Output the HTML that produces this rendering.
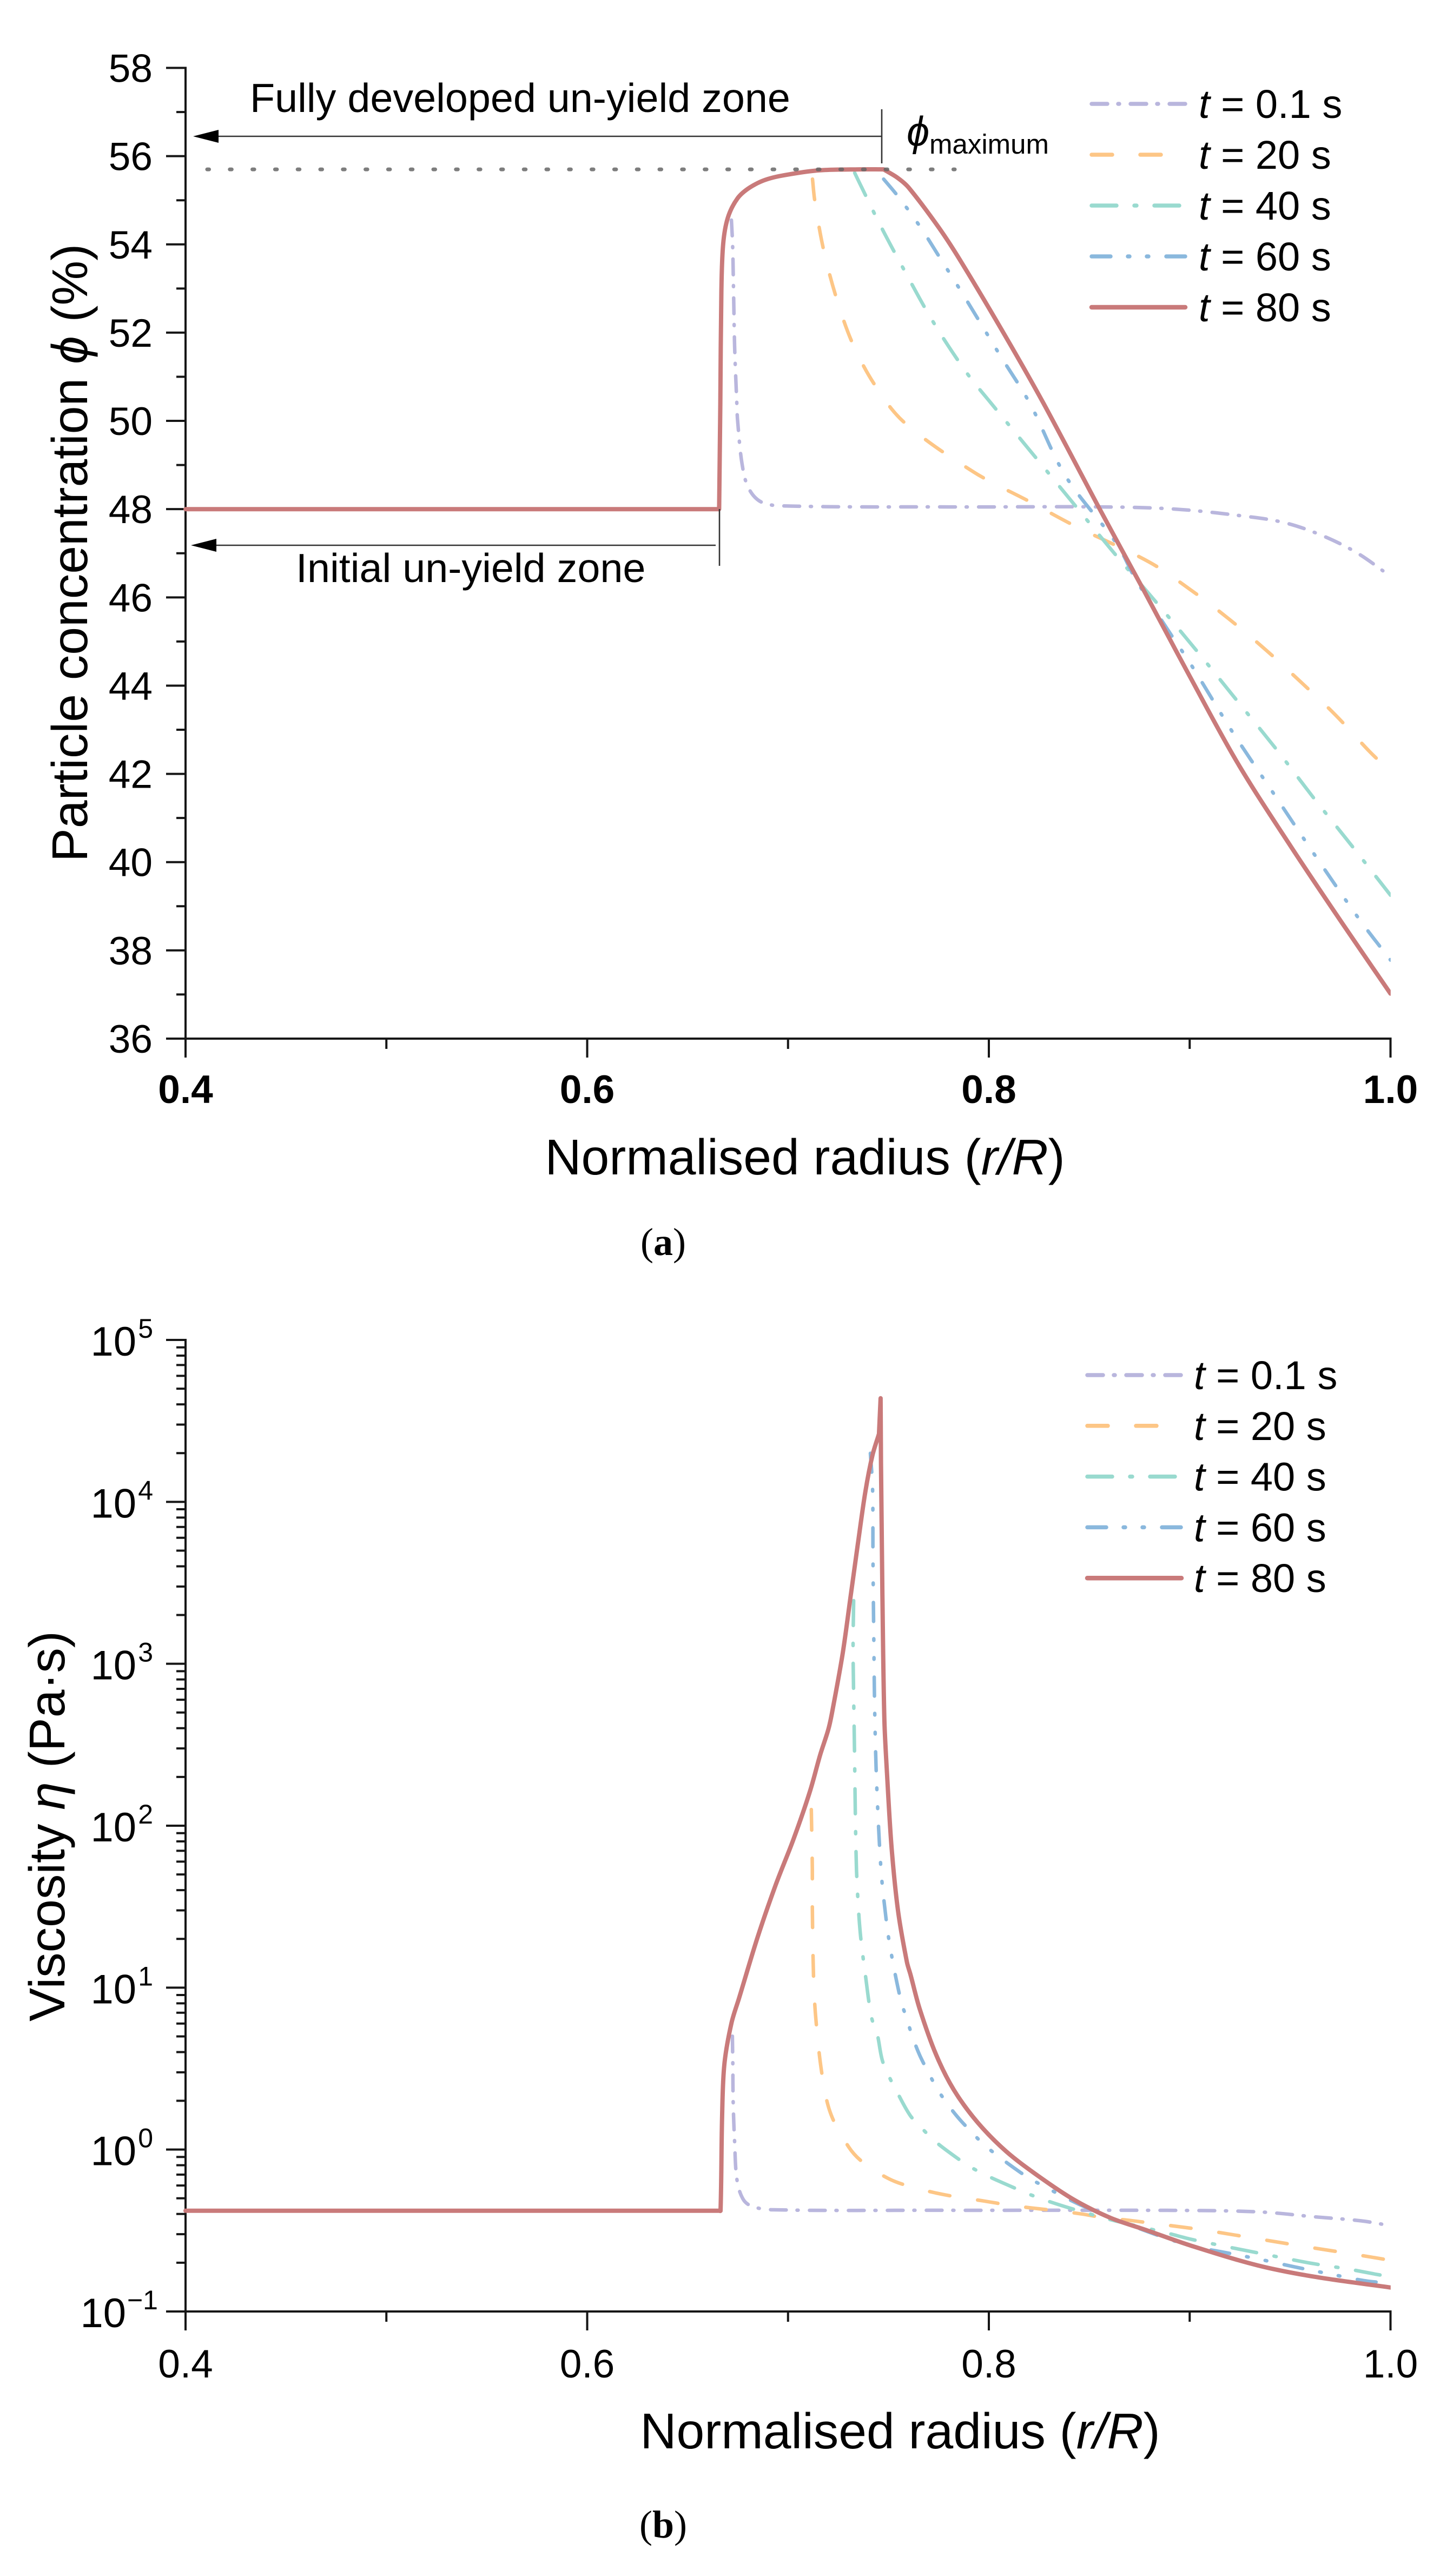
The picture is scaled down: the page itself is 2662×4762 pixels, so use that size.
<!DOCTYPE html>
<html lang="en">
<head>
<meta charset="utf-8">
<title>Particle concentration and viscosity profiles</title>
<style>
html,body{margin:0;padding:0;background:#fff}
svg{display:block}
text{font-family:"Liberation Sans","DejaVu Sans",sans-serif;fill:#000}
.cap{font-family:"Liberation Serif","DejaVu Serif",serif}
</style>
</head>
<body>
<svg id="figure" xmlns="http://www.w3.org/2000/svg" width="2662" height="4762" viewBox="0 0 2662 4762">
<rect width="2662" height="4762" fill="#fff"/>
<defs>
<clipPath id="clipA"><rect x="300" y="100" width="2270.8" height="1900"/></clipPath>
<clipPath id="clipB"><rect x="300" y="2450" width="2270.8" height="1900"/></clipPath>
</defs>
<g id="panelA"></g>
<g id="panelB"></g>
</svg>
<script>
// Shared axis tick values
const radiusMajorTicks = [0.4, 0.6, 0.8, 1.0];
const radiusMinorTicks = [0.5, 0.7, 0.9];
const radiusTickLabels = ['0.4', '0.6', '0.8', '1.0'];
const timeLabels = ['0.1', '20', '40', '60', '80'];

// Panel (a): particle concentration (%) axis
const phiMajorTicks = [36, 38, 40, 42, 44, 46, 48, 50, 52, 54, 56, 58];
const phiMinorTicks = [37, 39, 41, 43, 45, 47, 49, 51, 53, 55, 57];
const phiMaximum = [55.7];

// Panel (a): series, visible portions
const phiR01 = [.6718,.6724,.6729,.6734,.6745,.6749,.6771,.6804,.6872,.7009,.78,.8565,.893,.9255,.9466,.965,.9829,1];
const phiV01 = [54.55,54,52.9,51.7,50.39,50.0,49.03,48.47,48.15,48.07,48.05,48.05,48.0,47.85,47.7,47.42,47.02,46.48];

const phiR20 = [.7122,.7133,.7176,.724,.7321,.7434,.758,.7925,.8199,.8428,.8799,.9005,.9193,.9379,.9554,.9727,.9895,1];
const phiV20 = [55.48,55,53.9,52.8,51.76,50.8,49.96,48.84,48.18,47.62,46.8,46.17,45.52,44.81,44.08,43.33,42.51,42.05];

const phiR40 = [.7332,.7367,.7462,.7571,.7723,.7888,.8013,.8246,.8428,.8632,.8837,.9035,.9234,.9431,.962,.9811,1];
const phiV40 = [55.62,55.29,54.41,53.48,52.24,51.1,50.39,49.1,48.09,46.96,45.87,44.79,43.67,42.56,41.44,40.35,39.25];

const phiR60 = [.7476,.7551,.7661,.7764,.786,.8054,.8205,.8382,.8639,.873,.8876,.9013,.9209,.9423,.9632,.9847,1];
const phiV60 = [55.48,55.07,54.38,53.64,52.95,51.5,50.39,48.75,47.2,46.42,45.37,44.43,42.98,41.52,40.1,38.69,37.78];

const phiR80 = [.4,.6657,.6657,.6663,.6668,.6677,.67,.6748,.681,.6898,.7022,.716,.7353,.7476,.7476,.7545,.76,.7751,.786,.8081,.8273,.8558,.8775,.899,.9237,.95,.9762,1];
const phiV80 = [48,48,48,50.39,52.9,54,54.6,55.04,55.29,55.48,55.6,55.68,55.7,55.7,55.7,55.51,55.29,54.38,53.62,51.93,50.39,47.95,46.13,44.3,42.26,40.38,38.6,37.02];

// Panel (b): viscosity axis, as log10 of Pa·s
const logEtaDecades = [-1, 0, 1, 2, 3, 4, 5];
const logEtaMinorFactors = [2, 3, 4, 5, 6, 7, 8, 9];

// Panel (b): series, log10 viscosity
const etaR01 = [.6723,.6725,.6727,.6734,.6746,.6777,.6823,.6928,.7746,.8684,.9151,.9385,.9618,.9852,1];
const logEta01 = [.7,.527,.287,.05,-.19,-.308,-.352,-.372,-.375,-.375,-.378,-.388,-.415,-.44,-.47];

const etaR20 = [.7116,.7121,.7121,.7127,.7138,.717,.7213,.7302,.7372,.7498,.7606,.7736,.7852,.7978,.8094,.8221,.8337,.8463,.8579,.8706,.8824,.9058,.9304,.9549,.9794,1];
const logEta20 = [2.1,1.73,1.5,1.07,.815,.457,.22,.016,-.078,-.178,-.228,-.268,-.295,-.318,-.342,-.362,-.378,-.398,-.422,-.438,-.457,-.495,-.544,-.594,-.642,-.684];

const etaR40 = [.7327,.7324,.7327,.7331,.7335,.7341,.7351,.7362,.7386,.7416,.7444,.7469,.7501,.7542,.7607,.7663,.7731,.7848,.7919,.7997,.8118,.8199,.8279,.8404,.859,.873,.8882,.901,.9185,.9314,.9489,.9618,.9794,.9923,1];
const logEta40 = [3.39,3.11,2.79,2.47,2.09,1.73,1.48,1.31,1.07,.815,.714,.553,.457,.357,.213,.136,.052,-.058,-.115,-.165,-.232,-.275,-.312,-.362,-.428,-.47,-.514,-.555,-.6,-.632,-.675,-.705,-.739,-.769,-.786];

const etaR60 = [.741,.7421,.7423,.7427,.7432,.7442,.7463,.7483,.7507,.7561,.7592,.7617,.7653,.7693,.7736,.7781,.7841,.7902,.7971,.804,.8124,.8202,.8283,.8358,.8451,.859,.8824,.901,.9151,.9338,.9524,.9688,.9887,1];
const logEta60 = [4.3,4.09,3.65,3.16,2.69,2.24,1.73,1.48,1.26,.925,.805,.707,.59,.49,.39,.303,.206,.123,.036,-.035,-.112,-.178,-.232,-.282,-.339,-.41,-.522,-.596,-.63,-.675,-.725,-.766,-.813,-.823];

const etaR80 = [.4,.6657,.6657,.6664,.6672,.6683,.6718,.6757,.6847,.6936,.7027,.7108,.7161,.7202,.7224,.7273,.7313,.7351,.7386,.7421,.7453,.7453,.7461,.7461,.7463,.7463,.747,.748,.7494,.7516,.7548,.7592,.761,.7655,.7736,.7825,.7943,.8086,.8248,.8427,.8606,.8787,.901,.9338,.9618,1];
const logEta80 = [-.378,-.378,-.378,-.378,.22,.527,.78,.938,1.305,1.626,1.916,2.207,2.441,2.6,2.73,3.07,3.43,3.77,4.07,4.29,4.42,4.42,4.64,4.64,4.24,4.24,3.43,2.65,2.3,1.86,1.472,1.158,1.08,.871,.59,.37,.169,-.011,-.165,-.312,-.422,-.499,-.595,-.715,-.785,-.852];

// Line styling per time step
const lineColors = ['#b9b6dd', '#fdc686', '#99dacf', '#8ab8dd', '#c97a7a'];
const lineWidths = [6.5, 6.5, 6.5, 6.5, 8];
const lineDashes = ['29 20 2 21', '38 52', '46 33 4 33', '35 32 3 32 3 33', 'none'];

const NS = 'http://www.w3.org/2000/svg';
const axisLeft = 343, axisRight = 2570.5;
const xScale = r => axisLeft + (r - 0.4) / 0.6 * (axisRight - axisLeft);
const phiY = v => 1920 - (v - 36) * (1920 - 125.5) / 22;
const etaY = l => 4273 - (l + 1) * (4273 - 2477) / 6;

function make(tag, attrs, parent) {
  const el = document.createElementNS(NS, tag);
  for (const k in attrs) el.setAttribute(k, attrs[k]);
  parent.appendChild(el);
  return el;
}
function tick(parent, x1, y1, x2, y2, w) {
  const el = make('line', {x1, y1, x2, y2, stroke: '#161616', 'stroke-width': w}, parent);
  
  
  return el;
}
function label(parent, txt, x, y, size, anchor, extra) {
  const el = make('text', Object.assign({x, y, 'font-size': size, 'text-anchor': anchor}, extra || {}), parent);
  el.textContent = txt;
  
  
  return el;
}
// Smooth path through the read points; a repeated point gives a sharp corner.
function smoothPath(pts) {
  const same = (a, b) => Math.abs(a[0] - b[0]) < 1e-6 && Math.abs(a[1] - b[1]) < 1e-6;
  function dir(i) {
    let a = pts[Math.max(i - 1, 0)], b = pts[Math.min(i + 1, pts.length - 1)];
    if (same(a, pts[i])) a = pts[i];
    if (same(b, pts[i])) b = pts[i];
    const dx = b[0] - a[0], dy = b[1] - a[1], n = Math.hypot(dx, dy) || 1;
    return [dx / n, dy / n];
  }
  let d = 'M' + pts[0][0].toFixed(1) + ' ' + pts[0][1].toFixed(1);
  for (let i = 0; i < pts.length - 1; i++) {
    const p = pts[i], q = pts[i + 1], len = Math.hypot(q[0] - p[0], q[1] - p[1]) / 3;
    const u = dir(i), v = dir(i + 1);
    d += 'C' + (p[0] + u[0] * len).toFixed(1) + ' ' + (p[1] + u[1] * len).toFixed(1) + ' ' +
      (q[0] - v[0] * len).toFixed(1) + ' ' + (q[1] - v[1] * len).toFixed(1) + ' ' +
      q[0].toFixed(1) + ' ' + q[1].toFixed(1);
  }
  return d;
}
function series(parent, rs, ys, yFn, i, clip) {
  const pts = rs.map((r, k) => [xScale(r), yFn(ys[k])]);
  const el = make('path', {d: smoothPath(pts), fill: 'none', stroke: lineColors[i], 'stroke-width': lineWidths[i],
    'stroke-linecap': 'round', 'stroke-linejoin': 'round', 'stroke-dasharray': lineDashes[i], 'clip-path': 'url(#' + clip + ')'}, parent);
  
  
}
function legend(parent, sx0, sx1, tx, y0, pitch) {
  timeLabels.forEach((t, i) => {
    const y = y0 + i * pitch;
    const g = make('g', {}, parent);
    
    
    const s = make('line', {x1: sx0 + 3, y1: y, x2: sx1 - 3, y2: y, stroke: lineColors[i], 'stroke-width': i === 4 ? 8.5 : 7.5,
      'stroke-linecap': 'round', 'stroke-dasharray': lineDashes[i]}, g);
    
    
    const txt = make('text', {x: tx, y: y + 26, 'font-size': 74}, g);
    
    
    const it = make('tspan', {'font-style': 'italic'}, txt);
    it.textContent = 't';
    txt.appendChild(document.createTextNode(' = ' + t + ' s'));
  });
}
function richText(parent, parts, attrs, name) {
  const el = make('text', attrs, parent);
  
  
  parts.forEach(p => {
    if (p.i) {
      const t = make('tspan', {'font-style': 'italic'}, el);
      t.textContent = p.t;
    } else {
      el.appendChild(document.createTextNode(p.t));
    }
  });
  return el;
}
function xAxis(parent, yBase, bold, labelBase) {
  const a = tick(parent, axisLeft - 2, yBase, axisRight + 2, yBase, 4);
  
  radiusMajorTicks.forEach((r, i) => {
    tick(parent, xScale(r), yBase, xScale(r), yBase + 35, 4);
    label(parent, radiusTickLabels[i], xScale(r), labelBase, 73, 'middle', bold ? {'font-weight': 'bold'} : {});
  });
  radiusMinorTicks.forEach(r => tick(parent, xScale(r), yBase, xScale(r), yBase + 19, 4));
}

// ----- Panel (a)
const A = document.getElementById('panelA');
tick(A, axisLeft, 123.5, axisLeft, 1922, 4);
xAxis(A, 1920, true, 2039);
phiMajorTicks.forEach(v => {
  tick(A, axisLeft - 36, phiY(v), axisLeft, phiY(v), 4);
  label(A, String(v), 282, phiY(v) + 26, 73, 'end');
});
phiMinorTicks.forEach(v => tick(A, axisLeft - 17, phiY(v), axisLeft, phiY(v), 4));
series(A, phiR01, phiV01, phiY, 0, 'clipA');
series(A, phiR20, phiV20, phiY, 1, 'clipA');
series(A, phiR40, phiV40, phiY, 2, 'clipA');
series(A, phiR60, phiV60, phiY, 3, 'clipA');
series(A, phiR80, phiV80, phiY, 4, 'clipA');

const maxLine = make('line', {x1: 383, y1: phiY(phiMaximum[0]), x2: 1765, y2: phiY(phiMaximum[0]), stroke: '#666', 'stroke-opacity': .85,
  'stroke-width': 7, 'stroke-linecap': 'round', 'stroke-dasharray': '3.5 38.3'}, A);



function annotLine(x1, y1, x2, y2, name) {
  const el = make('line', {x1, y1, x2, y2, stroke: '#333', 'stroke-width': 2.6}, A);
  
  
}
function annotHead(tip, base, y, name) {
  const el = make('polygon', {points: tip + ',' + y + ' ' + base + ',' + (y - 12) + ' ' + base + ',' + (y + 12), fill: '#000'}, A);
  
  
}
annotLine(390, 252, 1630, 252, 'full-zone-arrow-line');
annotHead(357, 404, 252, 'full-zone-arrowhead');
annotLine(1630, 202, 1630, 302, 'full-zone-boundary');
annotLine(390, 1008, 1323, 1008, 'initial-zone-arrow-line');
annotHead(353, 400, 1008, 'initial-zone-arrowhead');
annotLine(1330, 941, 1330, 1046, 'initial-zone-boundary');

richText(A, [{t: 'Fully developed un-yield zone'}], {x: 462, y: 207, 'font-size': 75.5}, 'full-zone-label');
richText(A, [{t: 'Initial un-yield zone'}], {x: 547, y: 1076, 'font-size': 75.5}, 'initial-zone-label');
richText(A, [{t: 'ϕ', i: 1}], {x: 1676, y: 269, 'font-size': 76}, 'phi-symbol');
richText(A, [{t: 'maximum'}], {x: 1718, y: 284, 'font-size': 51}, 'phi-subscript');

legend(A, 2015, 2194, 2216, 192, 94);

richText(A, [{t: 'Normalised radius ('}, {t: 'r/R', i: 1}, {t: ')'}], {x: 1488, y: 2171, 'font-size': 93, 'text-anchor': 'middle'}, 'x-axis-title');
richText(A, [{t: 'Particle concentration '}, {t: 'ϕ', i: 1}, {t: ' (%)'}], {x: 0, y: 0, 'font-size': 93, 'text-anchor': 'middle', transform: 'translate(161 1022) rotate(-90)'}, 'y-axis-title');
const capA = richText(A, [{t: '('}], {x: 1226, y: 2320, 'font-size': 72, 'text-anchor': 'middle', class: 'cap'}, 'caption-a');
make('tspan', {'font-weight': 'bold'}, capA).textContent = 'a';
capA.appendChild(document.createTextNode(')'));

// ----- Panel (b)
const B = document.getElementById('panelB');
tick(B, axisLeft, 2475, axisLeft, 4275, 4);
xAxis(B, 4273, false, 4395);
logEtaDecades.forEach(d => {
  tick(B, axisLeft - 36, etaY(d), axisLeft, etaY(d), 4);
  const neg = d < 0;
  label(B, '10', neg ? 233 : 252, etaY(d) + 29, 76, 'end');
  label(B, neg ? '−' + Math.abs(d) : String(d), neg ? 292 : 283, etaY(d) - 4, 50, 'end');
  if (d < 5) logEtaMinorFactors.forEach(m => {
    const y = etaY(d + Math.log10(m));
    tick(B, axisLeft - 17, y, axisLeft, y, 4);
  });
});
series(B, etaR01, logEta01, etaY, 0, 'clipB');
series(B, etaR20, logEta20, etaY, 1, 'clipB');
series(B, etaR40, logEta40, etaY, 2, 'clipB');
series(B, etaR60, logEta60, etaY, 3, 'clipB');
series(B, etaR80, logEta80, etaY, 4, 'clipB');

legend(B, 2007, 2187, 2207, 2542, 93.8);

richText(B, [{t: 'Normalised radius ('}, {t: 'r/R', i: 1}, {t: ')'}], {x: 1664, y: 4526, 'font-size': 93, 'text-anchor': 'middle'}, 'x-axis-title');
richText(B, [{t: 'Viscosity '}, {t: 'η', i: 1}, {t: ' (Pa·s)'}], {x: 0, y: 0, 'font-size': 93, 'text-anchor': 'middle', transform: 'translate(119 3376) rotate(-90)'}, 'y-axis-title');
const capB = richText(B, [{t: '('}], {x: 1226, y: 4691, 'font-size': 72, 'text-anchor': 'middle', class: 'cap'}, 'caption-b');
make('tspan', {'font-weight': 'bold'}, capB).textContent = 'b';
capB.appendChild(document.createTextNode(')'));
</script>
</body>
</html>
